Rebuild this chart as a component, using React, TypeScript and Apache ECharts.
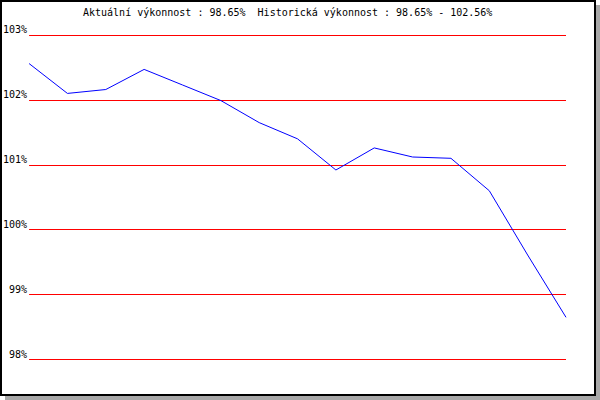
import React, { useEffect, useRef } from "react";
import * as echarts from "echarts";

const categories = ["1", "2", "3", "4", "5", "6", "7", "8", "9", "10", "11", "12", "13", "14", "15"];
const performance = [102.56, 102.1, 102.16, 102.47, 102.23, 101.99, 101.65, 101.4, 100.92, 101.26, 101.12, 101.1, 100.6, 99.61, 98.65];
const titleText = "Aktuální výkonnost : 98.65%  Historická výkonnost : 98.65% - 102.56%";
const yMin = 98;
const yMax = 103;
const yInterval = 1;

export default function App() {
  const ref = useRef<HTMLDivElement>(null);
  useEffect(() => {
    if (!ref.current) return;
    const chart = echarts.init(ref.current, null, { renderer: "svg" });
    const font = "'DejaVu Sans Mono', 'Liberation Mono', monospace";
    chart.setOption({
      animation: false,
      backgroundColor: "transparent",
      graphic: [
        { type: "rect", z: -10, shape: { x: 5, y: 5, width: 595, height: 395 }, style: { fill: "#a8a8a8" } },
        { type: "rect", z: -9, shape: { x: 1, y: 1, width: 594, height: 394 }, style: { fill: "#ffffff", stroke: "#000000", lineWidth: 2 } },
      ],
      title: {
        text: titleText,
        left: 83,
        top: 7,
        padding: 0,
        textStyle: { fontFamily: font, fontSize: 10, fontWeight: "normal", color: "#000000" },
      },
      grid: { left: 29, top: 35, width: 537, height: 324.5, containLabel: false },
      xAxis: {
        type: "category",
        data: categories,
        boundaryGap: false,
        show: false,
      },
      yAxis: {
        type: "value",
        min: yMin,
        max: yMax,
        interval: yInterval,
        axisLine: { show: false },
        axisTick: { show: false },
        axisLabel: {
          formatter: (v: number) => `${v}%`,
          fontFamily: font,
          fontSize: 10,
          color: "#000000",
          verticalAlign: "bottom",
          margin: 2,
          lineHeight: 11,
        },
        splitLine: { show: true, lineStyle: { color: "#ff0000", width: 1 } },
      },
      series: [
        {
          type: "line",
          data: performance,
          showSymbol: false,
          symbol: "none",
          lineStyle: { color: "#0000ff", width: 1 },
          itemStyle: { color: "#0000ff" },
        },
      ],
    });
    return () => chart.dispose();
  }, []);
  return (
    <div
      ref={ref}
      style={{ position: "absolute", left: 0, top: 0, width: 600, height: 400 }}
    />
  );
}
